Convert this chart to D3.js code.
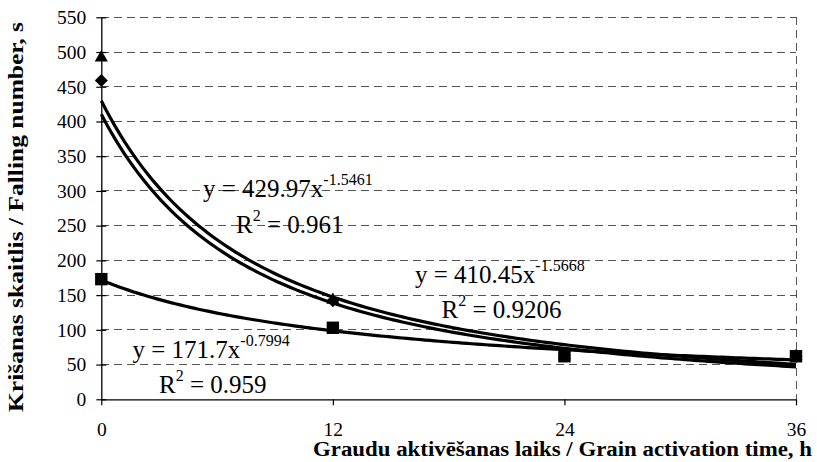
<!DOCTYPE html>
<html><head><meta charset="utf-8">
<script src="https://cdn.jsdelivr.net/npm/d3@7"></script>
<style>body{margin:0;background:#fff}svg{display:block}</style>
</head><body>
<svg id="c" width="817" height="462"></svg>
<script>
const categories = [0, 12, 24, 36];
const triangleValues = [492, 143, 63, 62];
const diamondValues = [459, 142, 63, 62];
const squareValues = [173, 103, 62, 62];
const yTicks = [0, 50, 100, 150, 200, 250, 300, 350, 400, 450, 500, 550];
const trendA = [429.97, 410.45, 171.7];
const trendB = [-1.5461, -1.5668, -0.7994];
const trendR2 = ["0.961", "0.9206", "0.959"];
const yTitle = "Krišanas skaitlis / Falling number, s";
const xTitle = "Graudu aktivēšanas laiks / Grain activation time, h";

const FONT = '"Liberation Serif"';
const svg = d3.select("#c");
const L = 101.3, R = 796, T = 17.3, B = 399.3;
const x = d3.scaleLinear().domain([1, 4]).range([L, R]);
const y = d3.scaleLinear().domain([0, 550]).range([B, T]);

// gridlines
svg.append("g").selectAll("line").data(yTicks.filter(d => d > 0)).join("line")
  .attr("x1", L).attr("x2", R).attr("y1", d => y(d)).attr("y2", d => y(d))
  .attr("stroke", "#555").attr("stroke-width", 1).attr("stroke-dasharray", "8,5")
  .attr("shape-rendering", "crispEdges");
svg.append("line").attr("x1", R).attr("x2", R).attr("y1", T).attr("y2", B)
  .attr("stroke", "#555").attr("stroke-dasharray", "8,5").attr("shape-rendering", "crispEdges");

// axes
const yAxis = d3.axisLeft(y).tickValues(yTicks).tickSizeInner(5).tickSizeOuter(0).tickPadding(10);
const gy = svg.append("g").attr("transform", `translate(${L},0)`).call(yAxis);
gy.selectAll(".tick line").attr("x1", -5).attr("x2", 5);
const xAxis = d3.axisBottom(x).tickValues([1, 2, 3, 4]).tickFormat((d, i) => categories[i])
  .tickSizeInner(6).tickSizeOuter(0).tickPadding(17);
const gx = svg.append("g").attr("transform", `translate(0,${B})`).call(xAxis);
[gx, gy].forEach(g => {
  g.select(".domain").attr("stroke", "#000").attr("stroke-width", 1.3);
  g.selectAll(".tick line").attr("stroke", "#000").attr("stroke-width", 1.2);
  g.selectAll("text").style("font-family", FONT).style("font-size", "19.5px").attr("fill", "#000");
});

// markers (triangles, diamonds)
const idx = categories.map((c, i) => i + 1);
svg.append("g").selectAll("path").data(triangleValues).join("path")
  .attr("d", d3.symbol(d3.symbolTriangle, 75))
  .attr("transform", (d, i) => `translate(${x(idx[i])},${y(d)})`).attr("fill", "#000");
svg.append("g").selectAll("path").data(diamondValues).join("path")
  .attr("d", "M0,-6.5L6.5,0L0,6.5L-6.5,0Z")
  .attr("transform", (d, i) => `translate(${x(idx[i])},${y(d)})`).attr("fill", "#000");

// trendlines
const xs = d3.range(1, 4.0001, 0.02);
const line = d3.line().x(d => x(d[0])).y(d => y(d[1]));
trendA.forEach((a, k) => {
  svg.append("path").datum(xs.map(v => [v, a * Math.pow(v, trendB[k])]))
    .attr("d", line).attr("fill", "none").attr("stroke", "#000").attr("stroke-width", 3.2);
});

// squares
svg.append("g").selectAll("rect").data(squareValues).join("rect")
  .attr("x", (d, i) => x(idx[i]) - 6.2).attr("y", d => y(d) - 6.2)
  .attr("width", 12.4).attr("height", 12.4).attr("fill", "#000");

// equation labels
const labelPos = [
  {x: 203, y: 197, rx: 236, ry: 232.5},
  {x: 415, y: 283, rx: 441.5, ry: 318},
  {x: 132.5, y: 358, rx: 159, ry: 393}
];
trendA.forEach((a, k) => {
  const p = labelPos[k];
  const t1 = svg.append("text").attr("x", p.x).attr("y", p.y)
    .style("font-family", FONT).style("font-size", "25px").attr("fill", "#000");
  t1.append("tspan").text(`y = ${a}x`);
  t1.append("tspan").attr("dy", -12).style("font-size", "16px").text(`${trendB[k]}`);
  const t2 = svg.append("text").attr("x", p.rx).attr("y", p.ry)
    .style("font-family", FONT).style("font-size", "25px").attr("fill", "#000");
  t2.append("tspan").text("R");
  t2.append("tspan").attr("dy", -12).style("font-size", "16px").text("2");
  t2.append("tspan").attr("dy", 12).text(` = ${trendR2[k]}`);
});

// axis titles
svg.append("text").attr("transform", "translate(23,217) rotate(-90)").attr("text-anchor", "middle")
  .attr("textLength", 390).attr("lengthAdjust", "spacingAndGlyphs")
  .style("font-family", FONT).style("font-weight", "bold").style("font-size", "20px").text(yTitle);
svg.append("text").attr("x", 313).attr("y", 456)
  .attr("textLength", 499).attr("lengthAdjust", "spacingAndGlyphs")
  .style("font-family", FONT).style("font-weight", "bold").style("font-size", "20px").text(xTitle);
</script>
</body></html>
